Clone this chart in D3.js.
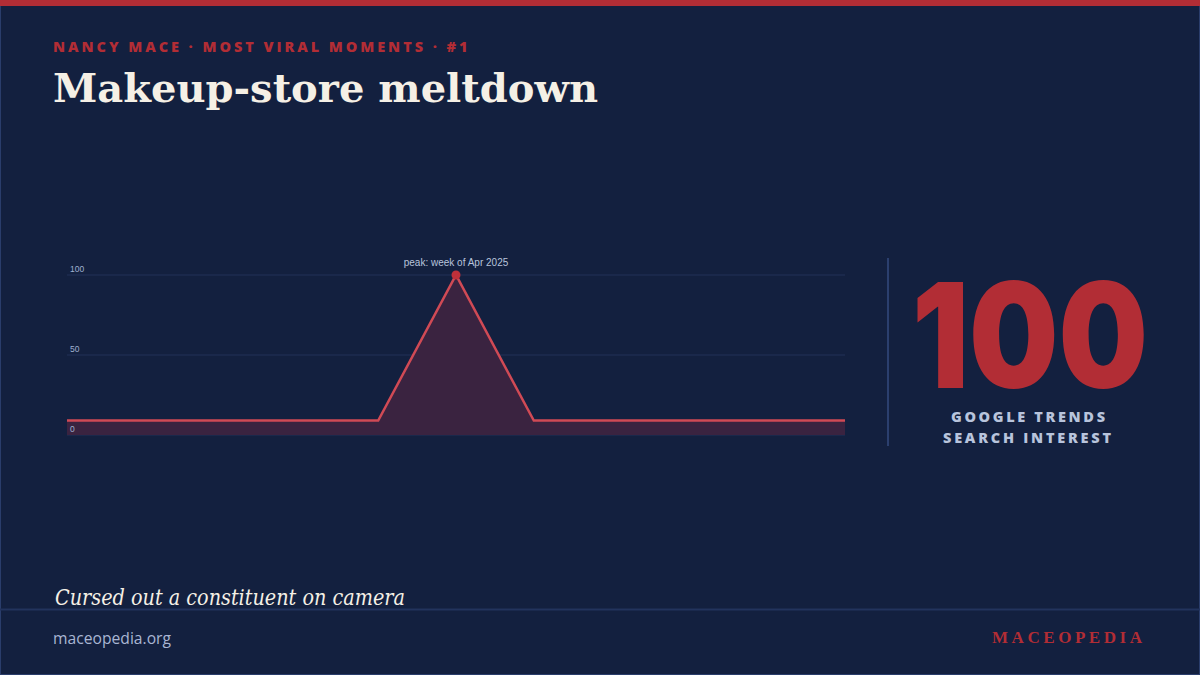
<!DOCTYPE html>
<html><head><meta charset="utf-8">
<script src="https://cdn.jsdelivr.net/npm/d3@7"></script>
<style>
html,body{margin:0;padding:0;background:#13203f;}
svg{display:block;}
</style></head>
<body>
<svg id="c" width="1200" height="675"></svg>
<script>
const weeks = ["w1","w2","w3","w4","w5","Apr 2025","w7","w8","w9","w10","w11"];
const interest = [9,9,9,9,9,100,9,9,9,9,9];
const yTicks = [0,50,100];
const peakLabel = "peak: week of Apr 2025";
const bigNumber = "100";

const svg = d3.select("#c");
const W = 1200, H = 675;
svg.append("rect").attr("x",0.5).attr("y",0.5).attr("width",W-1).attr("height",H-1)
  .attr("fill","#13203f").attr("stroke","#2a3d6b").attr("stroke-width",1);
svg.append("rect").attr("x",0).attr("y",0).attr("width",W).attr("height",6).attr("fill","#b22d35");

svg.append("text").attr("x",53).attr("y",52)
  .attr("font-family","'Open Sans', sans-serif").attr("font-weight",800)
  .attr("font-size",14.5).attr("letter-spacing",2.4).attr("fill","#b22d35")
  .attr("textLength",417).attr("lengthAdjust","spacing")
  .text("NANCY MACE · MOST VIRAL MOMENTS · #1");
svg.append("text").attr("x",53).attr("y",102)
  .attr("font-family","Georgia, 'DejaVu Serif', serif").attr("font-weight","bold")
  .attr("font-size",40).attr("fill","#f5f0e6")
  .attr("textLength",545).attr("lengthAdjust","spacingAndGlyphs")
  .text("Makeup-store meltdown");

// chart
const x = d3.scalePoint().domain(weeks).range([67,845]);
const y = d3.scaleLinear().domain([0,100]).range([435,275]);
const g = svg.append("g");
g.selectAll("line.grid").data(yTicks).join("line")
  .attr("x1",67).attr("x2",845).attr("y1",d=>y(d)).attr("y2",d=>y(d))
  .attr("stroke","#233159").attr("stroke-width",1);
const area = d3.area().x((d,i)=>x(weeks[i])).y0(y(0)).y1(d=>y(d));
const line = d3.line().x((d,i)=>x(weeks[i])).y(d=>y(d));
g.append("path").datum(interest).attr("d",area).attr("fill","#3a2340");
g.append("path").datum(interest).attr("d",line).attr("fill","none")
  .attr("stroke","#d04a55").attr("stroke-width",2.5).attr("stroke-linejoin","miter");
g.selectAll("text.tick").data(yTicks).join("text")
  .attr("x",70).attr("y",d=>y(d)-3)
  .attr("font-family","'Liberation Sans', Arial, sans-serif").attr("font-size",8.5)
  .attr("fill","#9fb0cf").text(d=>d);
const pi = interest.indexOf(d3.max(interest));
g.append("circle").attr("cx",x(weeks[pi])).attr("cy",y(interest[pi])).attr("r",4.5).attr("fill","#c0303a");
g.append("text").attr("x",x(weeks[pi])).attr("y",y(interest[pi])-9).attr("text-anchor","middle")
  .attr("font-family","'Liberation Sans', Arial, sans-serif").attr("font-size",10)
  .attr("fill","#b8c4dc").text(peakLabel);

// right stat
svg.append("line").attr("x1",888).attr("x2",888).attr("y1",258).attr("y2",446)
  .attr("stroke","#2b3f6e").attr("stroke-width",2);
svg.append("text").attr("x",912).attr("y",388)
  .attr("font-family","Inter, 'Open Sans', sans-serif").attr("font-weight",900)
  .attr("font-size",146).attr("fill","#b22d35")
  .attr("textLength",236).attr("lengthAdjust","spacingAndGlyphs")
  .text(bigNumber);
svg.append("text").attr("x",951).attr("y",422)
  .attr("font-family","'Open Sans', sans-serif").attr("font-weight",800)
  .attr("font-size",14.5).attr("fill","#b8c4dc")
  .attr("textLength",154).attr("lengthAdjust","spacing").text("GOOGLE TRENDS");
svg.append("text").attr("x",943).attr("y",443)
  .attr("font-family","'Open Sans', sans-serif").attr("font-weight",800)
  .attr("font-size",14.5).attr("fill","#b8c4dc")
  .attr("textLength",168).attr("lengthAdjust","spacing").text("SEARCH INTEREST");

// footer
svg.append("text").attr("x",55).attr("y",605)
  .attr("font-family","Georgia, 'DejaVu Serif', serif").attr("font-style","italic")
  .attr("font-size",22).attr("fill","#f5f0e6")
  .attr("textLength",350).attr("lengthAdjust","spacingAndGlyphs")
  .text("Cursed out a constituent on camera");
svg.append("line").attr("x1",0).attr("x2",W).attr("y1",609.5).attr("y2",609.5)
  .attr("stroke","#22335d").attr("stroke-width",2);
svg.append("text").attr("x",53).attr("y",644)
  .attr("font-family","'Open Sans', sans-serif").attr("font-size",16)
  .attr("fill","#a9b6d3").attr("textLength",118).attr("lengthAdjust","spacingAndGlyphs")
  .text("maceopedia.org");
svg.append("text").attr("x",992).attr("y",643)
  .attr("font-family","'Liberation Serif', serif").attr("font-weight","bold")
  .attr("font-size",17).attr("fill","#b22d35")
  .attr("textLength",150).attr("lengthAdjust","spacing").text("MACEOPEDIA");
</script>
</body></html>
